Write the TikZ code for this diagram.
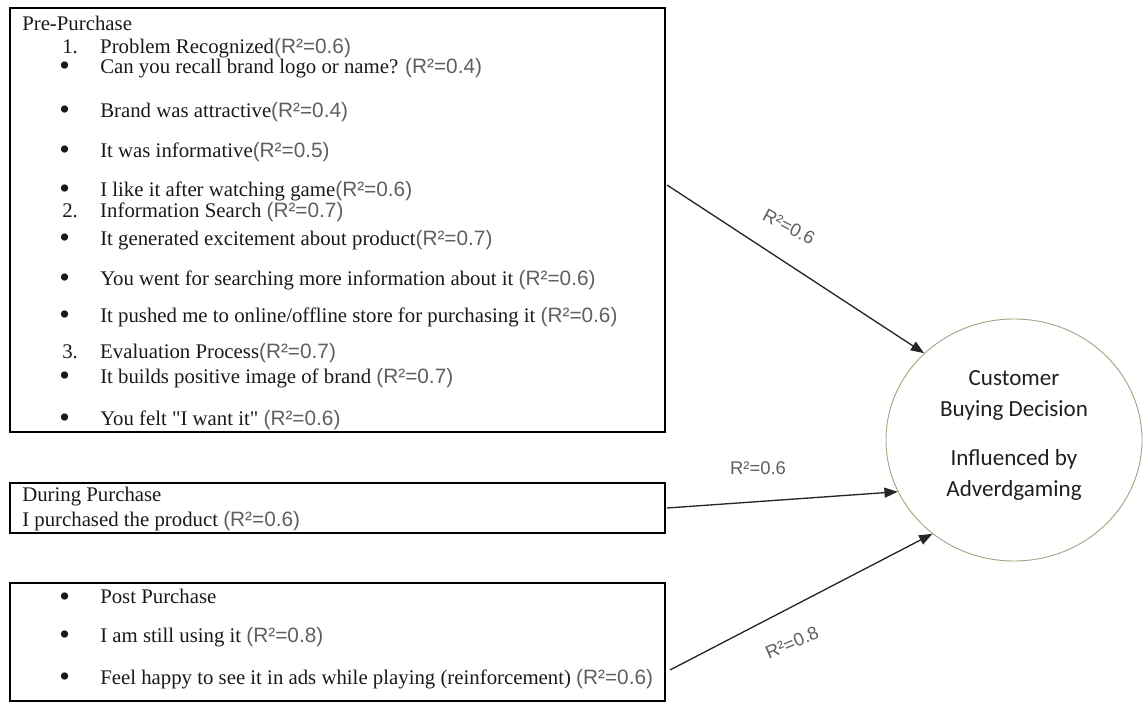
\documentclass[tikz,border=0pt]{standalone}
\usepackage{fontspec}
\setmainfont{Liberation Serif}
\setsansfont{Liberation Sans}
\newfontfamily\calibrifont{Carlito}
\usepackage{tikz}
\usetikzlibrary{arrows.meta}
\usetikzlibrary{shapes.geometric}
\usepackage{xcolor}
\usepackage{graphicx}
\definecolor{rgrey}{HTML}{5F5F5F}
\definecolor{ringgreen}{HTML}{94AD82}
\newcommand{\rsq}[1]{{\sffamily\color{rgrey}(R²=#1)}}
\newcommand{\bul}{\makebox[30.75pt][l]{\raisebox{-0.12em}{\scalebox{1.45}{\textbullet}}}}
\newcommand{\num}[1]{\makebox[28.5pt][l]{#1}}

\begin{document}
\begin{tikzpicture}[x=0.75pt, y=-0.75pt,
  box/.style={draw, line width=1pt, rectangle, inner sep=0pt},
  line/.style={anchor=west, inner sep=0pt, text=black!90, font=\fontsize{15.6}{18}\selectfont},
  rlab/.style={text=rgrey, inner sep=0pt, font=\sffamily\fontsize{13.8}{16}\selectfont},
  link/.style={-{Triangle[length=10pt,width=7.5pt]}, line width=1pt, black!85}]

\useasboundingbox (0,0) rectangle (1143,702);

% the three boxes
\node[box, minimum width=491.25pt, minimum height=318pt] (pre) at (337.5,220) {};
\node[box, minimum width=491.25pt, minimum height=37.5pt] (during) at (337.5,508) {};
\node[box, minimum width=491.25pt, minimum height=88.5pt] (post) at (337.5,642) {};

% pre-purchase
\node[line] (p0) at (22,23) {Pre-Purchase};
\node[line] (p1) at (62,48) {\num{1.}Problem Recognized\rsq{0.6}};
\node[line] (p2) at (59,68) {\bul Can you recall brand logo or name? \rsq{0.4}};
\node[line] (p3) at (59,112) {\bul Brand was attractive\rsq{0.4}};
\node[line] (p4) at (59,152) {\bul It was informative\rsq{0.5}};
\node[line] (p5) at (59,191) {\bul I like it after watching game\rsq{0.6}};
\node[line] (p6) at (62,212) {\num{2.}Information Search \rsq{0.7}};
\node[line] (p7) at (59,240) {\bul It generated excitement about product\rsq{0.7}};
\node[line] (p8) at (59,280) {\bul You went for searching more information about it \rsq{0.6}};
\node[line] (p9) at (59,317) {\bul It pushed me to online/offline store for purchasing it \rsq{0.6}};
\node[line] (p10) at (62,353) {\num{3.}Evaluation Process\rsq{0.7}};
\node[line] (p11) at (59,378) {\bul It builds positive image of brand \rsq{0.7}};
\node[line] (p12) at (59,420) {\bul You felt \textquotedbl I want it\textquotedbl{} \rsq{0.6}};

% during purchase
\node[line] (d0) at (22,497) {During Purchase};
\node[line] (d1) at (22,521) {I purchased the product \rsq{0.6}};

% post purchase
\node[line] (q0) at (59,598) {\bul Post Purchase};
\node[line] (q1) at (59,637) {\bul I am still using it \rsq{0.8}};
\node[line] (q2) at (59,679) {\bul Feel happy to see it in ads while playing (reinforcement) \rsq{0.6}};

% outcome
\node[ellipse, draw=ringgreen, line width=0.7pt, minimum width=192pt, minimum height=181.5pt,
  inner sep=0pt] (decision) at (1014,440) {};
\node[align=center, text=black!88, inner sep=0pt,
  font=\calibrifont\fontsize{17.3}{23.25}\selectfont] (dectext) at ([yshift=3.6pt]decision.center)
  {Customer\\Buying Decision\\[13.5pt]Influenced by\\Adverdgaming};

\coordinate (preout) at (667,185);
\coordinate (postout) at (670,670);
\draw[link] (preout) -- (decision.136);
\draw[link] ([xshift=1pt]during.east) -- (decision.204);
\draw[link] (postout) -- (decision.229);

\node[rlab, rotate=-28] (r1) at (789,227) {R²=0.6};
\node[rlab] (r2) at (758,468) {R²=0.6};
\node[rlab, rotate=23] (r3) at (792,643) {R²=0.8};

\end{tikzpicture}
\end{document}
